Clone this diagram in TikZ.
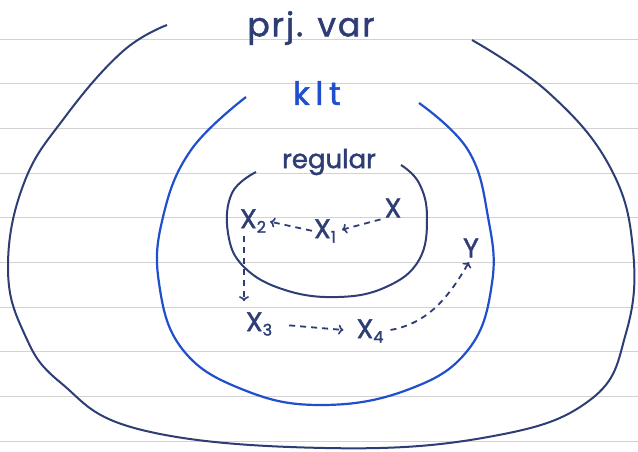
\documentclass[tikz,border=0pt]{standalone}
\usepackage{fontspec}
\setmainfont{Poppins}[FakeBold=1.6]
\usetikzlibrary{arrows.meta,calc}
\definecolor{navy}{HTML}{2E3D74}
\definecolor{kblue}{HTML}{1F4FCC}
\definecolor{ruleline}{HTML}{D2D2D2}
\newcommand\lsub[1]{\raisebox{-0.3ex}{\fontsize{16}{16}\selectfont #1}}
\begin{document}
\begin{tikzpicture}[x=1pt,y=-1pt,
  ruled/.style={ruleline, line width=0.9pt},
  ring/.style={navy, line width=2pt},
  kring/.style={kblue, line width=2.2pt},
  lbl/.style={inner sep=1pt, font=\fontsize{27}{27}\selectfont, navy},
  conn/.style={navy, line width=1.8pt, dash pattern=on 6pt off 5pt, -{To[length=5pt,width=10pt,line width=1.6pt]}}]
\useasboundingbox (0,0) rectangle (638,451);
\fill[white] (0,0) rectangle (638,451);
% ruled paper
\foreach \yy in {39,83.7,128.4,173.1,217.8,262.5,307.2,351.9,396.6,441.3}
  \draw[ruled] (0,\yy) -- (638,\yy);
% outer (projective varieties)
\draw[ring] plot[smooth, tension=0.7] coordinates {(167,25) (122,52) (65,117) (24,183) (8,267) (24,333) (61,383) (142,430) (325,448) (488,437) (590,400) (626,333) (633,250) (610,167) (549,93) (472,40)};
% klt
\draw[kring] plot[smooth, tension=0.7] coordinates {(246,97) (191,150) (163,217) (159,283) (183,350) (244,390) (321,405) (407,390) (468,350) (492,283) (488,217) (468,150) (419,103)};
% regular
\draw[ring] plot[smooth, tension=0.7] coordinates {(256,172) (232,193) (228,233) (244,267) (285,290) (338,297) (386,287) (419,260) (427,217) (419,183) (401,165)};
% labels
\node[navy, font=\fontsize{33}{33}\selectfont\addfontfeature{LetterSpace=6}] (pv) at (311,28) {prj. var};
\node[kblue, font=\fontsize{32}{32}\selectfont\addfontfeature{LetterSpace=18}] (klt) at (317,93) {klt};
\node[navy, font=\fontsize{26}{26}\selectfont] (reg) at (329,162) {regular};
% points
\node[lbl] (x)  at (393,208) {X};
\node[lbl] (x1) at (325,231) {X\lsub{1}};
\node[lbl] (x2) at (253,221) {X\lsub{2}};
\node[lbl] (x3) at (259,324) {X\lsub{3}};
\node[lbl] (x4) at (370,331) {X\lsub{4}};
\node[lbl] (y)  at (471,248) {Y};
% arrows
\draw[conn, shorten <=3pt, shorten >=5pt] (x.south west) -- (x1.east);
\draw[conn, shorten <=1pt, shorten >=3pt] (x1.west) -- (x2.east);
\draw[conn] ([xshift=-9pt,yshift=-2pt]x2.south) -- ([xshift=-15pt,yshift=10pt]x3.north);
\draw[conn, shorten <=16pt, shorten >=12pt] (x3.east) -- (x4.west);
\draw[conn, shorten <=6pt, shorten >=4pt] (x4.east) to[out=10, in=-120] (y.south);
\end{tikzpicture}
\end{document}
